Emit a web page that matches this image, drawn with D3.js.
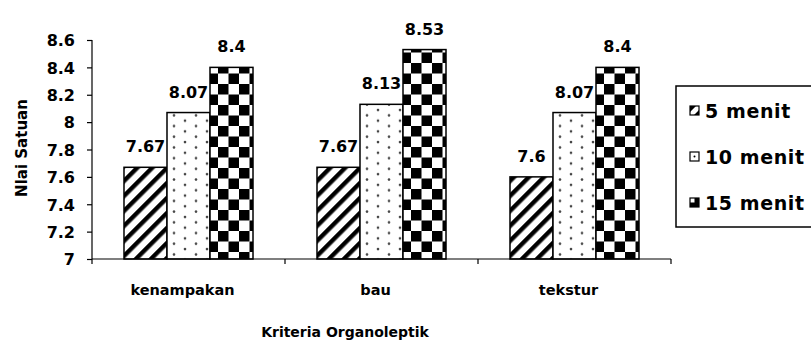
<!DOCTYPE html>
<html>
<head>
<meta charset="utf-8">
<script src="https://cdn.jsdelivr.net/npm/d3@7"></script>
<style>
  html, body { margin: 0; padding: 0; background: #fff; }
  svg { display: block; }
  text { font-family: "DejaVu Sans", sans-serif; font-weight: bold; fill: #000; }
</style>
</head>
<body>
<svg id="chart" width="811" height="342"></svg>
<script>
// Organoleptic scores per criterion for each frying time
const categories = ["kenampakan", "bau", "tekstur"];
const seriesNames = ["5 menit", "10 menit", "15 menit"];
const values5 = [7.67, 7.67, 7.6];
const values10 = [8.07, 8.13, 8.07];
const values15 = [8.4, 8.53, 8.4];
const yTicks = [7, 7.2, 7.4, 7.6, 7.8, 8, 8.2, 8.4, 8.6];
const yTitle = "Nlai Satuan";
const xTitle = "Kriteria Organoleptik";

const seriesValues = [values5, values10, values15];
const patternIds = ["pat-stripe", "pat-dots", "pat-check"];

const svg = d3.select("#chart");
const plot = { left: 92, right: 671, top: 40, bottom: 259 };

// fill patterns
const defs = svg.append("defs");
const stripe = defs.append("pattern")
  .attr("id", "pat-stripe").attr("patternUnits", "userSpaceOnUse")
  .attr("width", 10.6).attr("height", 10.6)
  .attr("patternTransform", "rotate(45)");
stripe.append("rect").attr("width", 10.6).attr("height", 10.6).attr("fill", "#fff");
stripe.append("rect").attr("x", 0).attr("width", 4.4).attr("height", 10.6).attr("fill", "#000");

const dots = defs.append("pattern")
  .attr("id", "pat-dots").attr("patternUnits", "userSpaceOnUse")
  .attr("width", 22).attr("height", 10.7);
dots.append("rect").attr("width", 22).attr("height", 10.7).attr("fill", "#fff");
dots.append("circle").attr("cx", 5).attr("cy", 3).attr("r", 1.3).attr("fill", "#444");
dots.append("circle").attr("cx", 16).attr("cy", 8.35).attr("r", 1.3).attr("fill", "#444");

const check = defs.append("pattern")
  .attr("id", "pat-check").attr("patternUnits", "userSpaceOnUse")
  .attr("width", 21).attr("height", 21);
check.append("rect").attr("width", 21).attr("height", 21).attr("fill", "#fff");
check.append("rect").attr("x", 0).attr("y", 0).attr("width", 10.5).attr("height", 10.5).attr("fill", "#000");
check.append("rect").attr("x", 10.5).attr("y", 10.5).attr("width", 10.5).attr("height", 10.5).attr("fill", "#000");

// scales
const x0 = d3.scaleBand().domain(categories).range([plot.left, plot.right]).padding(0);
const x1 = d3.scaleBand().domain(seriesNames).range([0, x0.bandwidth()])
  .paddingInner(0).paddingOuter(0.744);
const y = d3.scaleLinear().domain([7, 8.6]).range([plot.bottom, plot.top]);

// bars
const groups = svg.append("g").selectAll("g")
  .data(categories).join("g")
  .attr("transform", d => `translate(${x0(d)},0)`);

groups.selectAll("rect")
  .data((c, ci) => seriesNames.map((s, si) => ({ s, si, v: seriesValues[si][ci] })))
  .join("rect")
  .attr("x", d => x1(d.s))
  .attr("y", d => y(d.v))
  .attr("width", x1.bandwidth())
  .attr("height", d => y(7) - y(d.v))
  .attr("fill", d => `url(#${patternIds[d.si]})`)
  .attr("stroke", "#000")
  .attr("stroke-width", 1.5);

// value labels
groups.selectAll("text.val")
  .data((c, ci) => seriesNames.map((s, si) => ({ s, si, v: seriesValues[si][ci] })))
  .join("text")
  .attr("class", "val")
  .attr("x", d => x1(d.s) + x1.bandwidth() / 2)
  .attr("y", d => y(d.v) - 15)
  .attr("text-anchor", "middle")
  .attr("font-size", 16)
  .text(d => d.v);

// y axis
const yAxis = svg.append("g")
  .attr("transform", `translate(${plot.left},0)`)
  .call(d3.axisLeft(y).tickValues(yTicks).tickSize(5).tickPadding(12)
    .tickFormat(d => d3.format("")(+d.toFixed(1))));
yAxis.select(".domain").attr("stroke", "#000").attr("stroke-width", 1.2)
  .attr("d", `M0,${plot.top}V${plot.bottom}`);
yAxis.selectAll(".tick line").attr("stroke", "#000").attr("stroke-width", 1.2);
yAxis.selectAll(".tick text").attr("font-size", 16).attr("dy", "0.36em");

// x axis with ticks at category boundaries
const xAxisG = svg.append("g").attr("transform", `translate(0,${plot.bottom})`);
xAxisG.append("line")
  .attr("x1", plot.left).attr("x2", plot.right)
  .attr("stroke", "#000").attr("stroke-width", 1.2);
const boundaries = categories.map(c => x0(c)).concat([plot.right]);
xAxisG.selectAll("line.tk").data(boundaries).join("line")
  .attr("class", "tk")
  .attr("x1", d => d).attr("x2", d => d)
  .attr("y1", 0).attr("y2", 5)
  .attr("stroke", "#000").attr("stroke-width", 1.2);
xAxisG.selectAll("text").data(categories).join("text")
  .attr("x", d => x0(d) + x0.bandwidth() / 2 - 6)
  .attr("y", 36)
  .attr("text-anchor", "middle")
  .attr("font-size", 14.5)
  .text(d => d);

// axis titles
svg.append("text")
  .attr("transform", `translate(27,148) rotate(-90)`)
  .attr("text-anchor", "middle")
  .attr("font-size", 15)
  .text(yTitle);
svg.append("text")
  .attr("x", 345).attr("y", 337)
  .attr("text-anchor", "middle")
  .attr("font-size", 14)
  .text(xTitle);

// legend
const legend = svg.append("g");
legend.append("rect")
  .attr("x", 676).attr("y", 86).attr("width", 160).attr("height", 141)
  .attr("fill", "#fff").attr("stroke", "#000").attr("stroke-width", 1.5);

const legendY = [111, 157, 203];
const items = legend.selectAll("g.item").data(seriesNames).join("g")
  .attr("class", "item")
  .attr("transform", (d, i) => `translate(690,${legendY[i]})`);

items.append("rect")
  .attr("x", 0).attr("y", -5).attr("width", 9).attr("height", 9)
  .attr("fill", "#fff").attr("stroke", "#000").attr("stroke-width", 1.2);

// swatch marks
items.filter((d, i) => i === 0).append("path")
  .attr("d", "M0,-5H6L0,1Z M9,-1V4H4Z").attr("fill", "#000");
items.filter((d, i) => i === 1).append("circle")
  .attr("cx", 4.5).attr("cy", -0.5).attr("r", 1).attr("fill", "#000");
items.filter((d, i) => i === 2).append("path")
  .attr("d", "M4.5,-5H9V4H0V-0.5H4.5Z").attr("fill", "#000");

items.append("text")
  .attr("x", 15).attr("y", 0)
  .attr("dy", "0.36em")
  .attr("font-size", 19)
  .attr("letter-spacing", 0.6)
  .text(d => d);
</script>
</body>
</html>
